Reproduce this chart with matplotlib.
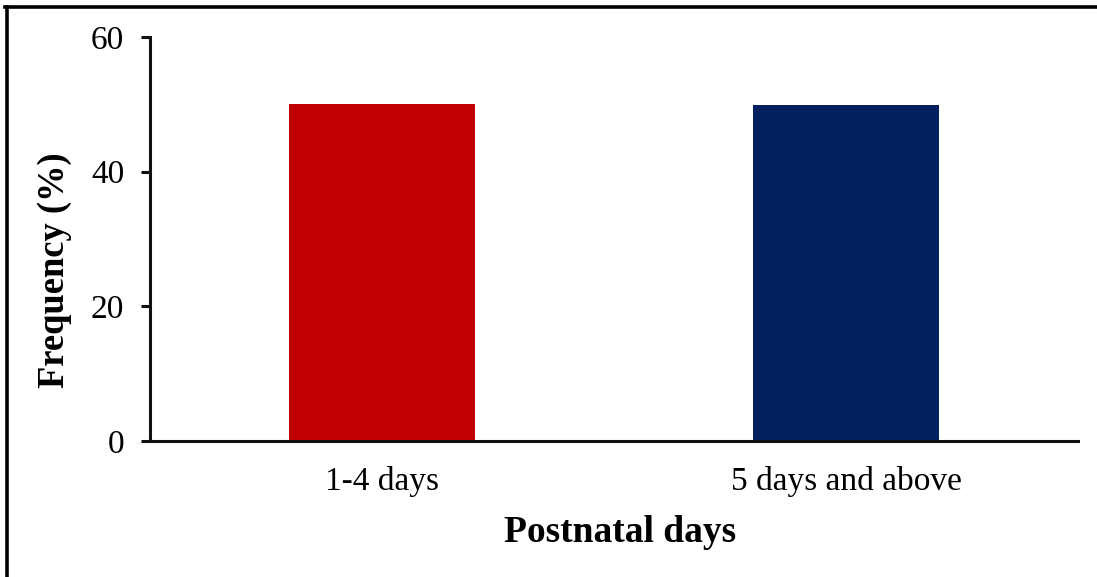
import matplotlib
matplotlib.use("Agg")
import matplotlib.pyplot as plt
from matplotlib.lines import Line2D

categories = ["1-4 days", "5 days and above"]
values = [50.1, 49.9]
colors = ["#C00000", "#002060"]
yticks = [0, 20, 40, 60]

plt.rcParams['font.family'] = ['Liberation Serif', 'DejaVu Serif']

W, H = 1097, 577
fig = plt.figure(figsize=(W/100, H/100), dpi=100)
ax = fig.add_axes([150/W, 1-441/H, (1078-150)/W, (441-37)/H])

x = list(range(len(categories)))
ax.bar(x, values, width=0.4, color=colors)
ax.set_xlim(-0.5, 1.5)
ax.set_ylim(0, 60)
ax.set_yticks(yticks)
ax.set_xticks(x)
ax.set_xticklabels(categories)

for s in ["top", "right"]:
    ax.spines[s].set_visible(False)
for s in ["left", "bottom"]:
    ax.spines[s].set_linewidth(2.2)
    ax.spines[s].set_color("#111111")
ax.tick_params(axis="y", length=6.5, width=2.2, color="#111111", labelsize=24, pad=12)
ax.tick_params(axis="x", length=0, labelsize=24, pad=18)

fig.text(620/W, 1-533/H, "Postnatal days", ha="center", va="center",
         fontsize=27, fontweight="bold")
fig.text(55/W, 1-270/H, "Frequency (%)", ha="center", va="center",
         fontsize=26.3, fontweight="bold", rotation=90)

# figure frame (left and top visible)
fig.add_artist(Line2D([6.5/W, 6.5/W], [0, 1-6.5/H], transform=fig.transFigure,
                      color="black", linewidth=2.6))
fig.add_artist(Line2D([5.2/W, 1], [1-6.5/H, 1-6.5/H], transform=fig.transFigure,
                      color="black", linewidth=2.6))

fig.savefig("out.png", dpi=100)
